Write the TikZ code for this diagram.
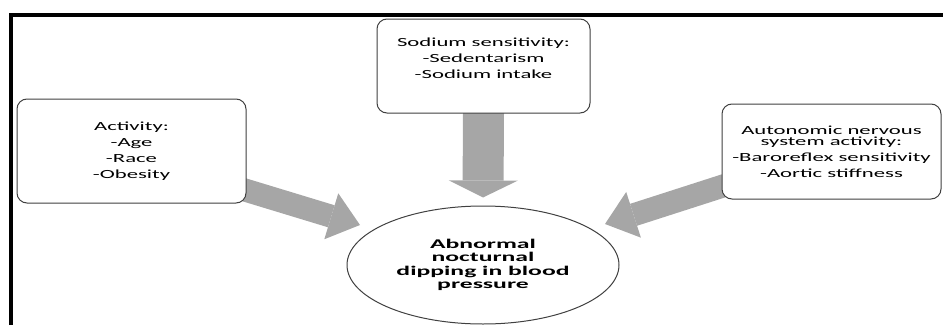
\documentclass[tikz,border=0pt]{standalone}
\usepackage{fontspec}
\setmainfont{Carlito}[FakeStretch=1.83]
\newfontfamily\dipfont{Carlito}[FakeStretch=1.93]
\usetikzlibrary{shapes.geometric,arrows.meta,backgrounds}
\begin{document}
\begin{tikzpicture}[x=1pt,y=1pt,
		factor/.style={draw=black!75,line width=1pt,fill=white,rounded corners=10pt,align=center,inner sep=0pt,font=\fontsize{12.4}{16}\selectfont},
		bigarrow/.style={draw=black!35,line width=23pt,-{Triangle[length=30pt,width=48pt,line width=0pt]}}]
		\useasboundingbox (0,0) rectangle (943,325);
		\draw[line width=3.5pt] (11,0) -- (11,310) -- (943,310);
		\node[factor,minimum width=229pt,minimum height=104pt] (act) at (131.5,174) {Activity:\\-Age\\-Race\\-Obesity};
		\node[factor,minimum width=213pt,minimum height=94pt] (sod) at (483.5,259) {Sodium sensitivity:\\-Sedentarism\\-Sodium intake\\\mbox{}};
		\node[factor,minimum width=219pt,minimum height=95pt] (ans) at (831.5,173.5) {Autonomic nervous\\[-5pt]system activity:\\-Baroreflex sensitivity\\-Aortic stiffness};
		\node[draw=black!75,line width=1pt,ellipse,fill=white,minimum width=272pt,minimum height=118pt,inner sep=0pt,align=center,font=\dipfont\bfseries\fontsize{13.3}{13.3}\selectfont] (dip) at (483,60) {Abnormal\\nocturnal\\dipping in blood\\pressure};
		\coordinate (tipL) at (360,100);
		\coordinate (tipR) at (605,101);
		\begin{scope}[on background layer]
			\draw[bigarrow,shorten <=-8pt] ([yshift=13pt]act.south east) -- (tipL);
			\draw[bigarrow,shorten <=-8pt] ([yshift=13pt]ans.south west) -- (tipR);
			\draw[bigarrow,line width=41pt,-{Triangle[length=17pt,width=69pt,line width=0pt]},shorten <=-5pt] (sod.south) -- ([yshift=8pt]dip.north);
		\end{scope}
	\end{tikzpicture}
\end{document}
